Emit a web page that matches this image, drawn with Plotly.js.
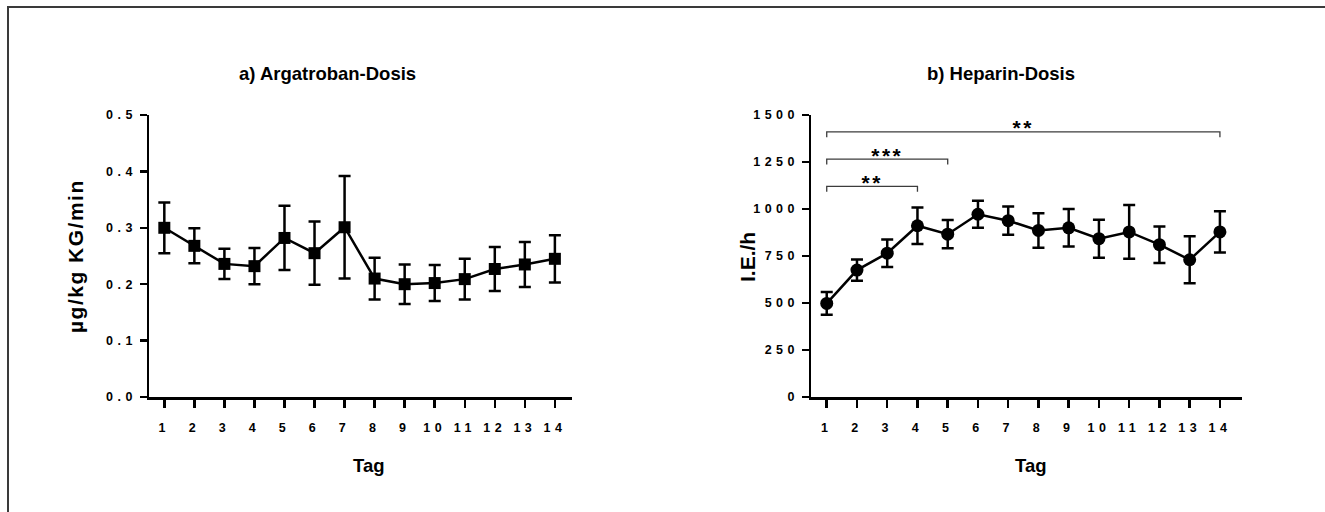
<!DOCTYPE html>
<html>
<head>
<meta charset="utf-8">
<script src="https://cdn.plot.ly/plotly-3.0.1.min.js"></script>
<style>
  html, body { margin: 0; padding: 0; background: #fff; }
  #chart { width: 1325px; height: 512px; }
  /* widely spaced digits on the axes */
  #chart .xtick text, #chart .x2tick text,
  #chart .ytick text, #chart .y2tick text { letter-spacing: 4.5px; }
  /* slightly opened lettering for the left axis title and the star labels */
  #chart .annotation[data-index="2"] .annotation-text { letter-spacing: 1.5px; }
  #chart .annotation[data-index="6"] .annotation-text,
  #chart .annotation[data-index="7"] .annotation-text,
  #chart .annotation[data-index="8"] .annotation-text { letter-spacing: 2.5px; }
</style>
</head>
<body>
<div id="chart"></div>
<script>
// Treatment day
const tage = [1, 2, 3, 4, 5, 6, 7, 8, 9, 10, 11, 12, 13, 14];

// a) Argatroban dose (µg/kg KG/min), mean and SEM per day
const argatroban    = [0.300, 0.268, 0.236, 0.232, 0.282, 0.255, 0.301, 0.210, 0.200, 0.202, 0.209, 0.227, 0.235, 0.245];
const argatrobanSem = [0.045, 0.031, 0.027, 0.032, 0.057, 0.056, 0.091, 0.037, 0.035, 0.032, 0.036, 0.039, 0.040, 0.042];

// b) Heparin dose (I.E./h), mean and SEM per day
const heparin    = [498, 675, 765, 911, 866, 972, 938, 886, 900, 842, 878, 810, 730, 878];
const heparinSem = [60, 57, 73, 97, 75, 72, 75, 92, 100, 101, 143, 97, 125, 110];

// Significance brackets on panel b (day vs. day)
const sigFrom   = [1, 1, 1];
const sigTo     = [4, 5, 14];
const sigHeight = [1120, 1265, 1410];
const sigLabel  = ['**', '***', '**'];

const argTicks = [0, 0.1, 0.2, 0.3, 0.4, 0.5];
const hepTicks = [0, 250, 500, 750, 1000, 1250, 1500];

const FONT = 'Liberation Sans, Arial, Helvetica, sans-serif';
const INK = '#000000';

const W = 1325, H = 512;
const px = v => v / W;             // horizontal pixel -> paper
const py = v => (H - v) / H;       // vertical pixel -> paper

const traces = [
  {
    x: tage, y: argatroban, xaxis: 'x', yaxis: 'y',
    type: 'scatter', mode: 'lines+markers',
    line: {color: INK, width: 2.5},
    marker: {symbol: 'square', size: 12, color: INK},
    error_y: {type: 'data', array: argatrobanSem, visible: true, color: INK, thickness: 2.5, width: 6},
    hoverinfo: 'x+y', showlegend: false
  },
  {
    x: tage, y: heparin, xaxis: 'x2', yaxis: 'y2',
    type: 'scatter', mode: 'lines+markers',
    line: {color: INK, width: 2.5},
    marker: {symbol: 'circle', size: 13, color: INK},
    error_y: {type: 'data', array: heparinSem, visible: true, color: INK, thickness: 2.5, width: 6},
    hoverinfo: 'x+y', showlegend: false
  }
];

// bracket lines with short legs pointing down
const leg = 28;
sigFrom.forEach((a, i) => {
  const b = sigTo[i], h = sigHeight[i];
  traces.push({
    x: [a, a, b, b], y: [h - leg, h, h, h - leg],
    xaxis: 'x2', yaxis: 'y2', type: 'scatter', mode: 'lines',
    line: {color: '#3c3c3c', width: 1.3},
    hoverinfo: 'skip', showlegend: false
  });
});

const axisCommon = {
  showline: true, linecolor: INK, linewidth: 2.5,
  ticks: 'outside', ticklen: 7, tickwidth: 2.5, tickcolor: INK,
  showgrid: false, zeroline: false, fixedrange: true,
  tickfont: {family: FONT, size: 12.5, color: INK, weight: 'bold'}
};

// text placed in paper coordinates, always centred on its anchor point
const label = (text, x, y, size, angle) => ({
  text: '<b>' + text + '</b>', xref: 'paper', yref: 'paper', x: px(x), y: py(y),
  xanchor: 'center', yanchor: 'middle', textangle: angle || 0,
  showarrow: false, font: {family: FONT, size: size, color: INK}
});

const layout = {
  width: W, height: H,
  margin: {l: 0, r: 0, t: 0, b: 0},
  paper_bgcolor: '#ffffff', plot_bgcolor: '#ffffff',
  font: {family: FONT, color: INK},
  xaxis: Object.assign({}, axisCommon, {
    domain: [px(149), px(572)], range: [0.49, 14.57], anchor: 'y',
    tickmode: 'array', tickvals: tage, ticklen: 8, ticklabelstandoff: 9
  }),
  yaxis: Object.assign({}, axisCommon, {
    domain: [py(397), py(115)], range: [0, 0.5], anchor: 'x',
    tickmode: 'array', tickvals: argTicks, tickformat: '.1f'
  }),
  xaxis2: Object.assign({}, axisCommon, {
    domain: [px(811), px(1242)], range: [0.48, 14.73], anchor: 'y2',
    tickmode: 'array', tickvals: tage, ticklen: 8, ticklabelstandoff: 9
  }),
  yaxis2: Object.assign({}, axisCommon, {
    domain: [py(397), py(115)], range: [0, 1500], anchor: 'x2',
    tickmode: 'array', tickvals: hepTicks, tickformat: 'd'
  }),
  annotations: [
    label('a) Argatroban-Dosis', 327, 73, 18.5),
    label('b) Heparin-Dosis', 1001, 73, 18.5),
    label('µg/kg KG/min', 75, 256, 21, -90),
    label('I.E./h', 747, 257, 21, -90),
    label('Tag', 369, 465, 18.5),
    label('Tag', 1031, 465, 18.5)
  ].concat(sigFrom.map((a, i) => ({
    text: '<b>' + sigLabel[i] + '</b>', xref: 'x2', yref: 'y2',
    x: (a + sigTo[i]) / 2, y: sigHeight[i], xanchor: 'center', yanchor: 'middle', yshift: 4,
    showarrow: false, font: {family: FONT, size: 21, color: INK}
  }))),
  shapes: [
    // outer frame (top and left edges)
    {type: 'line', xref: 'paper', yref: 'paper', x0: px(7), x1: 1, y0: py(7), y1: py(7),
     line: {color: '#3a3a3a', width: 2}},
    {type: 'line', xref: 'paper', yref: 'paper', x0: px(8), x1: px(8), y0: py(7), y1: 0,
     line: {color: '#3a3a3a', width: 2}}
  ]
};

Plotly.newPlot('chart', traces, layout, {displayModeBar: false, staticPlot: true});
</script>
</body>
</html>
